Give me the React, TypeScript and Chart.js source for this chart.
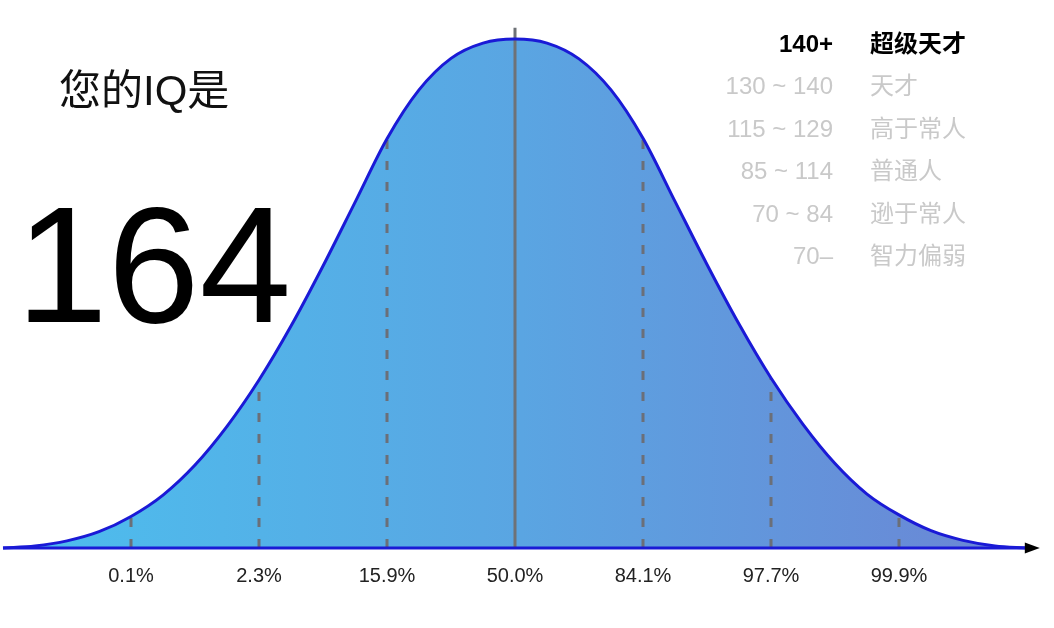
import React, { useEffect, useRef } from "react";
import { Chart, registerables } from "chart.js";

Chart.register(...registerables);

// Bell curve, x in standard deviations from the mean, y = relative height (peak = 100)
const curveX = [-4, -3.75, -3.5, -3.25, -3, -2.75, -2.5, -2.25, -2, -1.75, -1.5, -1.25, -1, -0.75, -0.5, -0.25, 0, 0.25, 0.5, 0.75, 1, 1.25, 1.5, 1.75, 2, 2.25, 2.5, 2.75, 3, 3.25, 3.5, 3.75, 4];
const curveY = [0, 0.4, 1.4, 3.2, 6.2, 10.4, 16.3, 23.9, 33.0, 43.6, 55.4, 67.9, 80.4, 90.0, 96.2, 99.2, 100, 99.2, 96.1, 90.0, 80.5, 68.1, 55.7, 44.0, 33.4, 24.3, 16.6, 10.6, 6.5, 3.4, 1.5, 0.4, 0];

// Dashed sigma markers and their heights (where they meet the curve)
const markX = [-3, -2, -1, 1, 2, 3];
const markY = [6.2, 33.0, 80.4, 80.5, 33.4, 6.5];
const meanX = 0;
const meanLineTop = 102.2;

// Axis
const axisStart = -4.0;
const axisEnd = 4.1;
const tickX = [-3, -2, -1, 0, 1, 2, 3];
const tickLabels = ["0.1%", "2.3%", "15.9%", "50.0%", "84.1%", "97.7%", "99.9%"];

// Legend
const legendRanges = ["140+", "130 ~ 140", "115 ~ 129", "85 ~ 114", "70 ~ 84", "70–"];
const legendNames = ["超级天才", "天才", "高于常人", "普通人", "逊于常人", "智力偏弱"];
const activeIndex = 0;

const titleText = "您的IQ是";
const scoreText = "164";

const FONT = '"Liberation Sans", "Noto Sans CJK SC", Arial, sans-serif';

export default function App() {
  const canvasRef = useRef<HTMLCanvasElement | null>(null);

  useEffect(() => {
    const canvas = canvasRef.current;
    if (!canvas) return;

    const curveData = curveX.map((x, i) => ({ x, y: curveY[i] }));

    const markerSets = markX.map((x, i) => ({
      data: [
        { x, y: 0 },
        { x, y: markY[i] },
      ],
      borderColor: "#6b6f78",
      borderWidth: 3,
      borderDash: [9, 12],
      pointRadius: 0,
      fill: false,
      order: 2,
    }));

    const overlayPlugin = {
      id: "overlay",
      afterDatasetsDraw(chart: any) {
        const ctx = chart.ctx;
        const xs = chart.scales.x;
        const ys = chart.scales.y;
        const y0 = ys.getPixelForValue(0);
        ctx.save();
        ctx.fillStyle = "#222";
        ctx.font = `20px ${FONT}`;
        ctx.textAlign = "center";
        ctx.textBaseline = "middle";
        tickX.forEach((v, i) => {
          ctx.fillText(tickLabels[i], xs.getPixelForValue(v), y0 + 28);
        });
        const tip = xs.getPixelForValue(axisEnd);
        ctx.fillStyle = "#000";
        ctx.beginPath();
        ctx.moveTo(tip, y0);
        ctx.lineTo(tip - 15, y0 - 5.5);
        ctx.lineTo(tip - 15, y0 + 5.5);
        ctx.closePath();
        ctx.fill();
        ctx.restore();
      },
    };

    const gradientFill = (c: any) => {
      const ch = c.chart;
      const area = ch.chartArea;
      if (!area) return "#5aa5e2";
      const xs = ch.scales.x;
      const g = ch.ctx.createLinearGradient(
        xs.getPixelForValue(axisStart),
        0,
        xs.getPixelForValue(axisEnd),
        0
      );
      g.addColorStop(0, "#4cbfee");
      g.addColorStop(0.5, "#5aa5e2");
      g.addColorStop(1, "#6c84d4");
      return g;
    };

    const chart = new Chart(canvas, {
      type: "line",
      data: {
        datasets: [
          {
            data: curveData,
            borderColor: "rgba(0,0,0,0)",
            borderWidth: 0,
            pointRadius: 0,
            cubicInterpolationMode: "monotone",
            fill: "origin",
            backgroundColor: gradientFill,
            order: 3,
          },
          ...markerSets,
          {
            data: [
              { x: meanX, y: 0 },
              { x: meanX, y: meanLineTop },
            ],
            borderColor: "#6e7277",
            borderWidth: 3,
            pointRadius: 0,
            fill: false,
            order: 2,
          },
          {
            data: curveData,
            borderColor: "#1a1ad6",
            borderWidth: 3,
            pointRadius: 0,
            cubicInterpolationMode: "monotone",
            fill: false,
            order: 1,
          },
          {
            data: [
              { x: axisStart, y: 0 },
              { x: axisEnd - 0.08, y: 0 },
            ],
            borderColor: "#1a1ad6",
            borderWidth: 3,
            pointRadius: 0,
            fill: false,
            order: 0,
          },
        ] as any,
      },
      options: {
        animation: false,
        responsive: false,
        maintainAspectRatio: false,
        events: [],
        layout: { padding: 0 },
        plugins: {
          legend: { display: false },
          tooltip: { enabled: false },
        },
        scales: {
          x: { type: "linear", display: false, min: -515 / 128, max: 539 / 128 },
          y: { type: "linear", display: false, min: -80 / 5.09, max: 548 / 5.09 },
        },
      } as any,
      plugins: [overlayPlugin],
    });

    return () => chart.destroy();
  }, []);

  return (
    <div
      style={{
        position: "fixed",
        left: 0,
        top: 0,
        width: 1054,
        height: 628,
        background: "#fff",
        overflow: "hidden",
        fontFamily: FONT,
      }}
    >
      <canvas ref={canvasRef} width={1054} height={628} style={{ position: "absolute", left: 0, top: 0 }} />
      <div
        style={{
          position: "absolute",
          left: 59,
          top: 70,
          fontSize: 42,
          lineHeight: "42px",
          color: "#111",
          whiteSpace: "nowrap",
        }}
      >
        {titleText}
      </div>
      <div
        style={{
          position: "absolute",
          left: 16,
          top: 183,
          fontSize: 165,
          lineHeight: "165px",
          color: "#000",
          whiteSpace: "nowrap",
        }}
      >
        {scoreText}
      </div>
      {legendRanges.map((r, i) => {
        const active = i === activeIndex;
        return (
          <div
            key={i}
            style={{
              position: "absolute",
              left: 600,
              top: 32 + i * 42.4,
              height: 24,
              fontSize: 24,
              lineHeight: "24px",
              whiteSpace: "nowrap",
              color: active ? "#000" : "#c9c9c9",
              fontWeight: active ? 700 : 400,
            }}
          >
            <span style={{ display: "inline-block", width: 233, textAlign: "right" }}>{r}</span>
            <span style={{ display: "inline-block", marginLeft: 37 }}>{legendNames[i]}</span>
          </div>
        );
      })}
    </div>
  );
}
